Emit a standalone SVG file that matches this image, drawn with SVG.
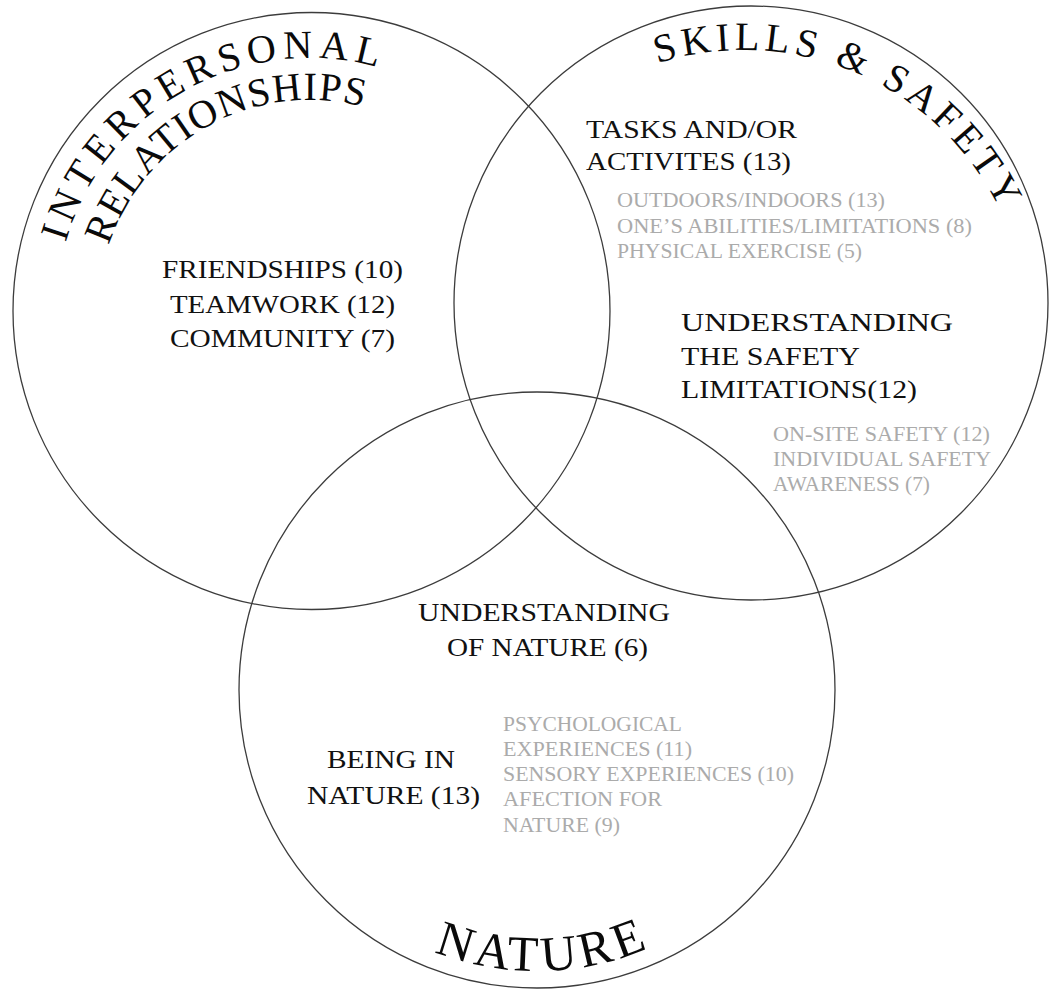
<svg xmlns="http://www.w3.org/2000/svg" width="1050" height="989" viewBox="0 0 1050 989">
  <style>
    .ring { fill: none; stroke: #3c3c3c; stroke-width: 1.3; }
    .title { font-family: "Liberation Serif", "Times New Roman", serif; font-size: 40px; fill: #0a0a0a; }
    .big { font-family: "Liberation Serif", "Times New Roman", serif; font-size: 50px; fill: #0a0a0a; }
    .main { font-family: "Liberation Serif", "Times New Roman", serif; font-size: 26px; fill: #111111; }
    .sub { font-family: "Liberation Serif", "Times New Roman", serif; font-size: 20px; fill: #ababab; }
    .mid { text-anchor: middle; }
  </style>
  <defs>
    <!-- baselines for the curved set titles -->
    <path id="arcInter" d="M58.9,350.4 A254,254 0 0 1 477.6,121.2"/>
    <path id="arcRel" d="M100.3,343 A212,212 0 0 1 450.8,153.5"/>
    <path id="arcSkills" d="M537.3,138.8 A285,285 0 0 1 1028.5,352.4"/>
    <path id="arcNature" d="M296.9,836 A281,281 0 0 0 783.5,824.9"/>
  </defs>

  <rect width="1050" height="989" fill="#ffffff"/>

  <!-- set: interpersonal relationships -->
  <g id="set-interpersonal">
    <circle class="ring" cx="311.5" cy="311" r="298.5"/>
    <text class="title" letter-spacing="6"><textPath href="#arcInter" startOffset="50%" text-anchor="middle">INTERPERSONAL</textPath></text>
    <text class="title" letter-spacing="1.2"><textPath href="#arcRel" startOffset="50%" text-anchor="middle">RELATIONSHIPS</textPath></text>
    <text class="main mid" x="282.5" y="278" textLength="241" lengthAdjust="spacingAndGlyphs">FRIENDSHIPS (10)</text>
    <text class="main mid" x="282.5" y="313" textLength="225" lengthAdjust="spacingAndGlyphs">TEAMWORK (12)</text>
    <text class="main mid" x="282.5" y="347" textLength="225" lengthAdjust="spacingAndGlyphs">COMMUNITY (7)</text>
  </g>

  <!-- set: skills & safety -->
  <g id="set-skills">
    <circle class="ring" cx="751" cy="303" r="297"/>
    <text class="title" letter-spacing="4.8"><textPath href="#arcSkills" startOffset="50%" text-anchor="middle">SKILLS &amp; SAFETY</textPath></text>
    <text class="main" x="586" y="138" textLength="211" lengthAdjust="spacingAndGlyphs">TASKS AND/OR</text>
    <text class="main" x="586" y="170" textLength="205" lengthAdjust="spacingAndGlyphs">ACTIVITES (13)</text>
    <text class="sub" x="617" y="207" textLength="268" lengthAdjust="spacingAndGlyphs">OUTDOORS/INDOORS (13)</text>
    <text class="sub" x="617" y="233" textLength="355" lengthAdjust="spacingAndGlyphs">ONE’S ABILITIES/LIMITATIONS (8)</text>
    <text class="sub" x="617" y="258" textLength="245" lengthAdjust="spacingAndGlyphs">PHYSICAL EXERCISE (5)</text>
    <text class="main" x="681" y="331" textLength="272" lengthAdjust="spacingAndGlyphs">UNDERSTANDING</text>
    <text class="main" x="681" y="365" textLength="179" lengthAdjust="spacingAndGlyphs">THE SAFETY</text>
    <text class="main" x="681" y="398" textLength="236" lengthAdjust="spacingAndGlyphs">LIMITATIONS(12)</text>
    <text class="sub" x="773" y="441" textLength="217" lengthAdjust="spacingAndGlyphs">ON-SITE SAFETY (12)</text>
    <text class="sub" x="773" y="466" textLength="218" lengthAdjust="spacingAndGlyphs">INDIVIDUAL SAFETY</text>
    <text class="sub" x="773" y="491" textLength="157" lengthAdjust="spacingAndGlyphs">AWARENESS (7)</text>
  </g>

  <!-- set: nature -->
  <g id="set-nature">
    <circle class="ring" cx="537" cy="690" r="298"/>
    <text class="big" letter-spacing="4.4"><textPath href="#arcNature" startOffset="50%" text-anchor="middle">NATURE</textPath></text>
    <text class="main mid" x="544" y="621" textLength="252" lengthAdjust="spacingAndGlyphs">UNDERSTANDING</text>
    <text class="main mid" x="547.5" y="656" textLength="201" lengthAdjust="spacingAndGlyphs">OF NATURE (6)</text>
    <text class="main mid" x="391" y="768" textLength="128" lengthAdjust="spacingAndGlyphs">BEING IN</text>
    <text class="main mid" x="393.5" y="804" textLength="173" lengthAdjust="spacingAndGlyphs">NATURE (13)</text>
    <text class="sub" x="503" y="731" textLength="179" lengthAdjust="spacingAndGlyphs">PSYCHOLOGICAL</text>
    <text class="sub" x="503" y="756" textLength="189" lengthAdjust="spacingAndGlyphs">EXPERIENCES (11)</text>
    <text class="sub" x="503" y="781" textLength="291" lengthAdjust="spacingAndGlyphs">SENSORY EXPERIENCES (10)</text>
    <text class="sub" x="503" y="806" textLength="159" lengthAdjust="spacingAndGlyphs">AFECTION FOR</text>
    <text class="sub" x="503" y="832" textLength="117" lengthAdjust="spacingAndGlyphs">NATURE (9)</text>
  </g>

  <!-- no connectors in this diagram -->
  <g id="connectors"/>
</svg>
